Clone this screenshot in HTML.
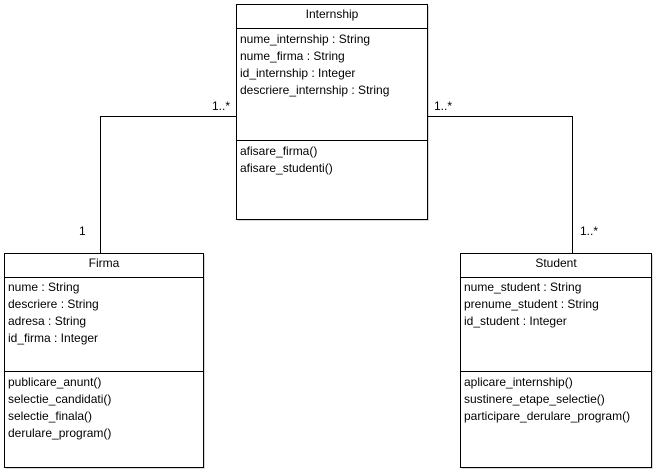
<!DOCTYPE html>
<html><head><meta charset="utf-8"><style>
html,body{margin:0;padding:0;background:#fff;}
svg{display:block;}
text{font-family:"Liberation Sans",Arial,sans-serif;font-size:12px;fill:#000;}
</style></head><body>
<svg width="656" height="472" viewBox="0 0 656 472" xmlns="http://www.w3.org/2000/svg">
<g fill="#d8d8d8">
<rect x="238" y="6" width="191" height="215"/>
<rect x="6" y="255" width="199" height="214"/>
<rect x="462" y="255" width="191" height="214"/>
</g>
<g fill="#fff" stroke="#000" stroke-width="1">
<rect x="236.5" y="4.5" width="191" height="215"/>
<rect x="4.5" y="253.5" width="199" height="214"/>
<rect x="460.5" y="253.5" width="191" height="214"/>
</g>
<g stroke="#000" stroke-width="1" fill="none">
<line x1="236.5" y1="28.5" x2="427.5" y2="28.5"/>
<line x1="236.5" y1="140.5" x2="427.5" y2="140.5"/>
<line x1="4.5" y1="277.5" x2="203.5" y2="277.5"/>
<line x1="4.5" y1="371.5" x2="203.5" y2="371.5"/>
<line x1="460.5" y1="277.5" x2="651.5" y2="277.5"/>
<line x1="460.5" y1="371.5" x2="651.5" y2="371.5"/>
<polyline points="236.5,116.5 100.5,116.5 100.5,253.5"/>
<polyline points="427.5,116.5 572.5,116.5 572.5,253.5"/>
</g>
<text x="332" y="18" text-anchor="middle">Internship</text>
<text x="240" y="43">nume_internship : String</text>
<text x="240" y="60">nume_firma : String</text>
<text x="240" y="77">id_internship : Integer</text>
<text x="240" y="94">descriere_internship : String</text>
<text x="240" y="155">afisare_firma()</text>
<text x="240" y="172">afisare_studenti()</text>
<text x="104" y="267" text-anchor="middle">Firma</text>
<text x="8" y="291">nume : String</text>
<text x="8" y="308">descriere : String</text>
<text x="8" y="325">adresa : String</text>
<text x="8" y="342">id_firma : Integer</text>
<text x="8" y="386">publicare_anunt()</text>
<text x="8" y="403">selectie_candidati()</text>
<text x="8" y="420">selectie_finala()</text>
<text x="8" y="437">derulare_program()</text>
<text x="556" y="267" text-anchor="middle">Student</text>
<text x="464" y="291">nume_student : String</text>
<text x="464" y="308">prenume_student : String</text>
<text x="464" y="325">id_student : Integer</text>
<text x="464" y="386">aplicare_internship()</text>
<text x="464" y="403">sustinere_etape_selectie()</text>
<text x="464" y="420">participare_derulare_program()</text>
<text x="212" y="110">1..*</text>
<text x="434" y="110">1..*</text>
<text x="79" y="235">1</text>
<text x="580" y="235">1..*</text>
</svg>
</body></html>
